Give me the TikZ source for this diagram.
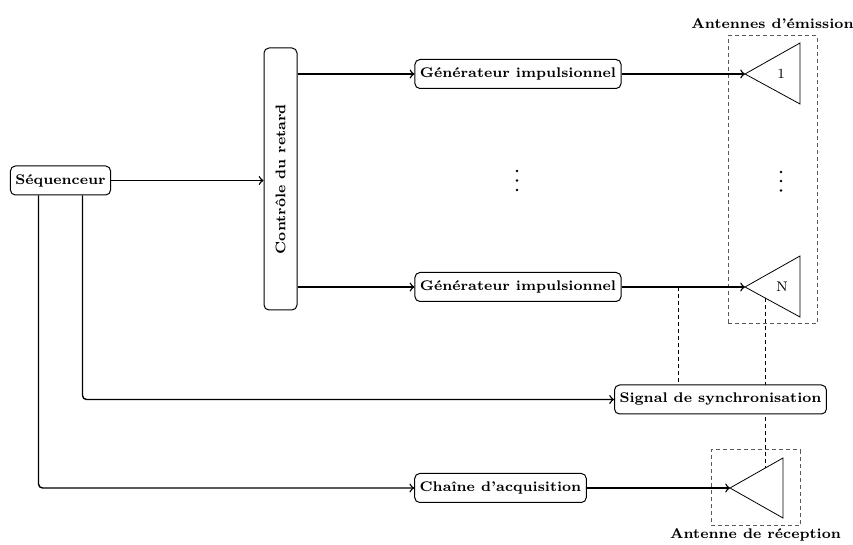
\documentclass[tikz,border=0pt]{standalone}
\begin{document}
\begin{tikzpicture}[x=0.5pt,y=-0.5pt,
  box/.style={draw,line width=0.5pt,rounded corners=2.5pt,fill=white,font=\bfseries\scriptsize,minimum height=14.5pt,inner xsep=2.5pt,inner ysep=1pt},
  conn/.style={line width=0.7pt,->},
  wire/.style={line width=0.7pt,rounded corners=2pt},
  tap/.style={line width=0.5pt,dash pattern=on 2pt off 1.5pt},
  grp/.style={draw=black!65,line width=0.5pt,dash pattern=on 2pt off 1.5pt},
  ant/.style={draw,line width=0.4pt},
  lbl/.style={font=\bfseries\scriptsize},
  dot/.style={fill=black,circle,inner sep=0pt,minimum size=1.4pt}]
\useasboundingbox (0,0) rectangle (853,545);

% group boxes
\node[grp,minimum width=44.5pt,minimum height=144pt] (txgrp) at (772.5,180) {};
\node[grp,minimum width=44.5pt,minimum height=38pt] (rxgrp) at (755.5,488) {};
\node[lbl,anchor=south] (txlbl) at (txgrp.north) {Antennes d'émission};
\node[lbl,anchor=north,inner ysep=1pt] (rxlbl) at (rxgrp.south) {Antenne de réception};

% antennas
\coordinate (a1tip) at (745,74);
\coordinate (aNtip) at (745,287);
\coordinate (rxtip) at (730,488);
\draw[ant] (a1tip) -- (800,43) -- (800,104) -- cycle;
\draw[ant] (aNtip) -- (800,256) -- (800,317) -- cycle;
\draw[ant] (rxtip) -- (783,458) -- (783,518) -- cycle;
\node[font=\scriptsize] (a1lbl) at (781,74) {1};
\node[font=\scriptsize] (aNlbl) at (782,287) {N};

% dashed sync lines
\coordinate (aNb) at (765,298);
\coordinate (rxt) at (765,468);
\draw[tap] (aNb) -- (rxt);

% blocks
\node[box] (seq) at (60.5,180.5) {Séquenceur};
\node[box,rotate=90,minimum width=131pt,minimum height=16.5pt] (ctrl) at (280.5,179) {Contrôle du retard};
\node[box] (gen1) at (518,74) {Générateur impulsionnel};
\node[box] (genN) at (518,287) {Générateur impulsionnel};
\node[box] (sig) at (720.5,399.5) {Signal de synchronisation};
\node[box] (chain) at (500.5,488) {Chaîne d'acquisition};

% dots
\node[dot] (d1) at (517,171) {};
\node[dot] (d2) at (517,180.5) {};
\node[dot] (d3) at (517,190) {};
\node[dot] (e1) at (781,172) {};
\node[dot] (e2) at (781,181) {};
\node[dot] (e3) at (781,190.5) {};

% connectors
\draw[conn] (seq.east) -- (seq.east -| ctrl.north);
\draw[conn] (ctrl.south |- gen1.west) -- (gen1.west);
\draw[conn] (ctrl.south |- genN.west) -- (genN.west);
\draw[conn] (gen1.east) -- (a1tip);
\draw[conn] (genN.east) -- (aNtip);
\draw[conn] (chain.east) -- (rxtip);
\draw[wire,->] ([xshift=11pt]seq.south) |- (sig.west);
\draw[wire,->] ([xshift=-11pt]seq.south) |- (chain.west);
\coordinate (tp) at (678,287);
\draw[tap] (tp) -- (tp |- sig.north);
\end{tikzpicture}
\end{document}
